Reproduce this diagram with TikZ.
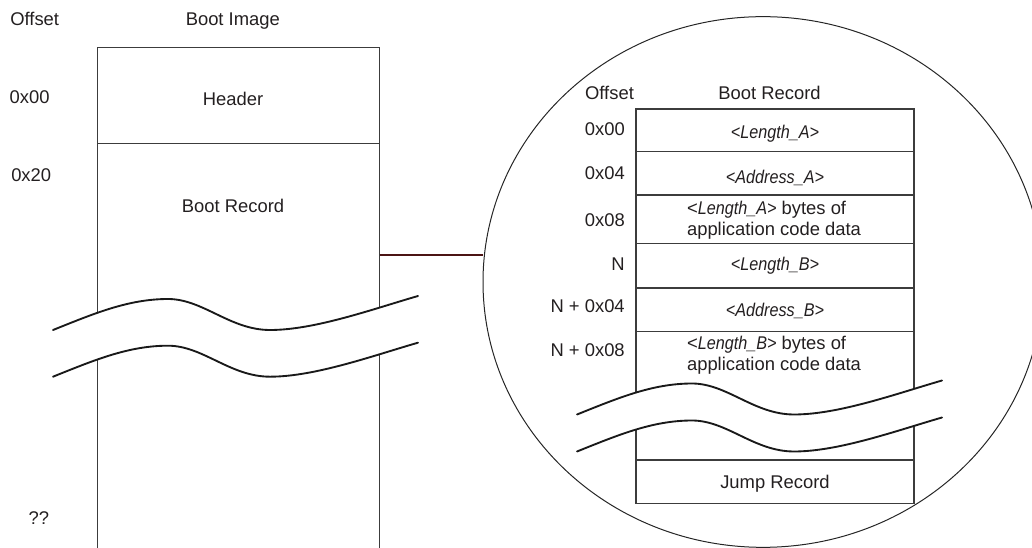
\documentclass[tikz,border=0pt]{standalone}
\usepackage{fontspec}
\setmainfont{Liberation Sans}
\usetikzlibrary{shapes.geometric}

\definecolor{edgegray}{RGB}{60,60,60}
\definecolor{txtgray}{RGB}{35,31,32}
\definecolor{linkred}{RGB}{75,20,20}

% narrow italic field names
\newcommand{\fld}[1]{\scalebox{0.88}[1]{\itshape #1}}

\tikzset{
  lbl/.style={font=\fontsize{13.8}{15.75}\selectfont, text=txtgray, inner sep=0pt, anchor=base},
  mapline/.style={draw=edgegray, line width=0.8pt},
  waveline/.style={draw=black!90, line width=1.4pt, line cap=round},
  % break mark: two waves, white between them, #1 = gap
  pics/brkband/.style={code={
    \fill[white] (0,0) .. controls (40,-16) and (75,-31) .. (115,-31)
      .. controls (150,-31) and (177,0) .. (217,0)
      .. controls (262,0) and (320,-21) .. (365,-34)
      -- (365,{#1-34}) .. controls (320,{#1-21}) and (262,#1) .. (217,#1)
      .. controls (177,#1) and (150,{#1-31}) .. (115,{#1-31})
      .. controls (75,{#1-31}) and (40,{#1-16}) .. (0,#1) -- cycle;
    \foreach \d in {0,#1}
      \draw[waveline] (0,\d) .. controls (40,{\d-16}) and (75,{\d-31}) .. (115,{\d-31})
        .. controls (150,{\d-31}) and (177,\d) .. (217,\d)
        .. controls (262,\d) and (320,{\d-21}) .. (365,{\d-34});
  }}
}

\begin{document}
\begin{tikzpicture}[x=0.75pt,y=-0.75pt]
  \useasboundingbox (0,0) rectangle (1032,548);
  \clip (0,0) rectangle (1032,548);

  % boot image
  \draw[mapline] (97.3,548) -- (97.3,47.7) -- (379.7,47.7) -- (379.7,548);
  \draw[mapline] (97.3,143.3) -- (379.7,143.3);
  \node[lbl] (imgoff) at (34.7,25.3) {Offset};
  \node[lbl] (imgttl) at (232.8,25.3) {Boot Image};
  \node[lbl] (off00) at (29.7,104) {0x00};
  \node[lbl] (hdr) at (233,105.7) {Header};
  \node[lbl] (off20) at (31.2,181.7) {0x20};
  \node[lbl] (brec) at (233,212.3) {Boot Record};
  \node[lbl] (offend) at (38.8,525) {??};

  % zoomed boot record
  \node[draw=black!85, line width=0.75pt, ellipse, minimum width=420pt,
        minimum height=398pt, inner sep=0pt, outer sep=0pt] (zoom) at (763,282) {};
  \coordinate (imgR) at (379.7,255);
  \draw[linkred, line width=0.8pt] (imgR) -- (imgR -| zoom.west);

  \draw[mapline] (636,109) rectangle (914,503.3);
  \foreach \y in {151.7,195,243.3,288,331.7,460}
    \draw[mapline] (636,\y) -- (914,\y);

  \node[lbl] (recoff) at (609.5,99.3) {Offset};
  \node[lbl] (recttl) at (769.5,99.3) {Boot Record};
  \foreach \y/\lab/\nm in {136/0x00/r0, 179.9/0x04/r1, 226.6/0x08/r2,
                           270.6/N/r3, 312.3/N + 0x04/r4, 356.6/N + 0x08/r5}
    \node[lbl, anchor=base east] (\nm) at (625,\y) {\lab};

  \node[lbl] (lena) at (775,138.3) {\fld{<Length\_A>}};
  \node[lbl] (adra) at (775,183.3) {\fld{<Address\_A>}};
  \node[lbl, anchor=center, align=left] (codea) at (774,220.6)
    {<\fld{Length\_A>} bytes of\\application code data};
  \node[lbl] (lenb) at (775,270.6) {\fld{<Length\_B>}};
  \node[lbl] (adrb) at (775,316.6) {\fld{<Address\_B>}};
  \node[lbl, anchor=center, align=left] (codeb) at (774,355.6)
    {<\fld{Length\_B>} bytes of\\application code data};
  \node[lbl] (jrec) at (775,488.3) {Jump Record};

  % break marks
  \pic at (53,330) {brkband=46.7};
  \pic at (577,414.5) {brkband=37};
\end{tikzpicture}
\end{document}
